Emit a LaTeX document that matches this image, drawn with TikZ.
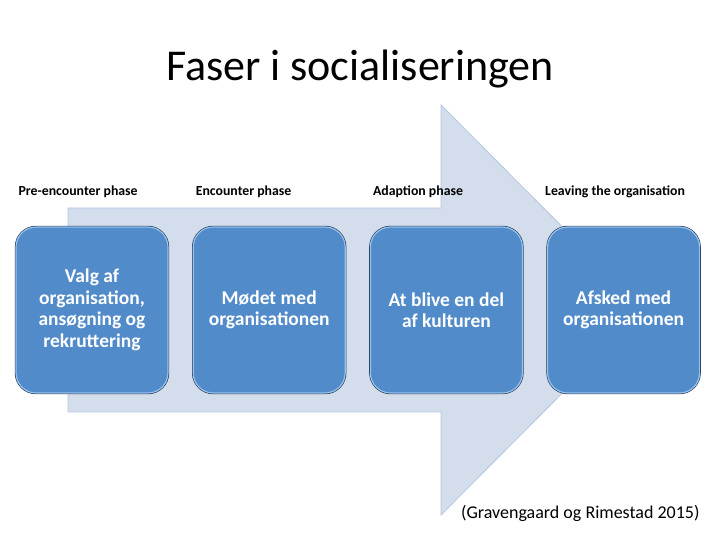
\documentclass[tikz,border=0pt]{standalone}
\usepackage{fontspec}
\setmainfont{Carlito}
\usetikzlibrary{positioning}
\definecolor{boxblue}{RGB}{82,139,202}
\definecolor{boxedge}{RGB}{35,50,75}
\definecolor{boxlight}{RGB}{150,195,240}
\definecolor{arrowfill}{RGB}{212,221,235}
\definecolor{arrowedge}{RGB}{180,198,225}

\begin{document}
\begin{tikzpicture}[
    x=1pt, y=1pt,
    fase/.style={
        rectangle,
        rounded corners=20pt,
        fill=boxblue,
        draw=boxlight,
        line width=1.2pt,
        preaction={draw=boxedge, line width=2.4pt},
        minimum width=152pt,
        minimum height=166pt,
        align=center,
        text=white,
        font=\fontsize{19.5}{21.5}\selectfont\bfseries
    },
    phase/.style={
        anchor=west,
        inner sep=3pt,
        font=\fontsize{13.8}{16}\selectfont\bfseries
    }
]
\useasboundingbox (0,0) rectangle (720,540);

% Stor pil i baggrunden
\draw[fill=arrowfill, draw=arrowedge, line width=0.8pt]
    (68,332) -- (441,332) -- (441,435) -- (645,230) -- (441,25)
    -- (441,128) -- (68,128) -- cycle;

% Overskrift
\node[font=\fontsize{44}{50}\selectfont] (title) at (360,471) {Faser i socialiseringen};

% Faser
\node[fase] (valg) at (92,230) {Valg af\\organisation,\\ansøgning og\\rekruttering};
\node[fase, right=24pt of valg] (modet) {Mødet med\\organisationen};
\node[fase, right=24pt of modet] (kultur) {At blive en del\\af kulturen};
\node[fase, right=24pt of kultur] (afsked) {Afsked med\\organisationen};

% Fasenavne
\node[phase] (pre) at ([yshift=35pt]valg.north west) {Pre-encounter phase};
\node[phase] (enc) at ([yshift=35pt]modet.north west) {Encounter phase};
\node[phase] (adapt) at ([yshift=35pt]kultur.north west) {Adaption phase};
\node[phase, xshift=-5pt] (leave) at ([yshift=35pt]afsked.north west) {Leaving the organisation};

% Kilde
\node[anchor=east, font=\fontsize{18}{21}\selectfont] (kilde) at (703,27) {(Gravengaard og Rimestad 2015)};

\end{tikzpicture}
\end{document}
